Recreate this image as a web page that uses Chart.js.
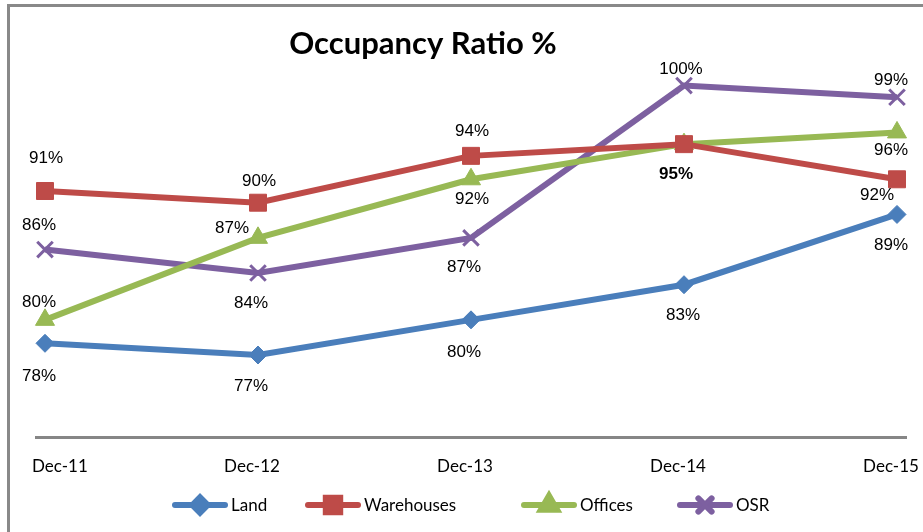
<!DOCTYPE html>
<html>
<head>
<meta charset="utf-8">
<script src="https://cdn.jsdelivr.net/npm/chart.js@4.4.1/dist/chart.umd.min.js"></script>
<style>
  html, body { margin: 0; padding: 0; background: #fff; }
  canvas { display: block; }
</style>
</head>
<body>
<canvas id="chart" width="923" height="532"></canvas>
<script>
// values
const categories = ['Dec-11', 'Dec-12', 'Dec-13', 'Dec-14', 'Dec-15'];
const land = [78, 77, 80, 83, 89];
const warehouses = [91, 90, 94, 95, 92];
const offices = [80, 87, 92, 95, 96];
const osr = [86, 84, 87, 100, 99];
const yMin = 70;
const yMax = 105;

// label placement (dx, dy from the point), null = no label
const labelOffsets = {
  Land: [[-6, 33], [-7, 31], [-7, 32], [-1, 31], [-6, 31]],
  Warehouses: [[1, -33], [1, -21], [1, -25], null, [-20, 16]],
  Offices: [[-6, -18], [-26, -10], [1, 20], [-8, 30, true], [-6, 18]],
  OSR: [[-6, -24], [-7, 30], [-7, 29], [-3, -16], [-6, -17]]
};

const legendX = [172, 305, 521, 677];

const excelPlugin = {
  id: 'excelBits',
  beforeDraw(chart) {
    const ctx = chart.ctx;
    ctx.save();
    ctx.fillStyle = '#fff';
    ctx.fillRect(0, 0, chart.width, chart.height);
    ctx.strokeStyle = '#898989';
    ctx.lineWidth = 3;
    ctx.strokeRect(8.5, 5.5, 1200, 1200);
    // category axis line
    const a = chart.chartArea;
    ctx.strokeStyle = '#868686';
    ctx.lineWidth = 3;
    ctx.beginPath();
    ctx.moveTo(a.left - 10, a.bottom + 0.5);
    ctx.lineTo(a.right + 10, a.bottom + 0.5);
    ctx.stroke();
    // category labels, kept inside the plot like Excel does
    const xs = chart.scales.x;
    ctx.fillStyle = '#000';
    ctx.font = '17px Lato';
    ctx.textBaseline = 'middle';
    ctx.textAlign = 'center';
    categories.forEach((c, i) => {
      const w = ctx.measureText(c).width;
      let cx = xs.getPixelForTick(i) - 6;
      cx = Math.max(cx, a.left - 13 + w / 2);
      cx = Math.min(cx, chart.width - 4 - w / 2);
      ctx.fillText(c, cx, a.bottom + 30);
    });
    // title
    ctx.font = 'bold 31px Lato';
    ctx.fillText('Occupancy Ratio %', 423, 44);
    ctx.restore();
  },
  afterDatasetsDraw(chart) {
    const ctx = chart.ctx;
    ctx.save();
    ctx.textAlign = 'center';
    ctx.textBaseline = 'middle';
    ctx.fillStyle = '#000';
    chart.data.datasets.forEach((ds, di) => {
      const meta = chart.getDatasetMeta(di);
      const offs = labelOffsets[ds.label];
      meta.data.forEach((pt, i) => {
        const o = offs[i];
        if (!o) return;
        ctx.font = (o[2] ? 'bold ' : '') + '17px "Liberation Sans"';
        ctx.fillText(ds.data[i] + '%', pt.x + o[0], pt.y + o[1]);
      });
    });
    // legend
    const ly = 505;
    chart.data.datasets.forEach((ds, di) => {
      const x = legendX[di];
      ctx.strokeStyle = ds.borderColor;
      ctx.lineWidth = 6;
      ctx.lineCap = 'round';
      ctx.beginPath();
      ctx.moveTo(x + 3, ly);
      ctx.lineTo(x + 53, ly);
      ctx.stroke();
      Chart.helpers.drawPoint(ctx, {
        pointStyle: ds.pointStyle,
        radius: ds.pointRadius * 0.85,
        borderWidth: ds.pointBorderWidth,
        rotation: 0
      }, x + 28, ly);
      ctx.fillStyle = ds.borderColor;
      ctx.strokeStyle = ds.borderColor;
      ctx.lineWidth = ds.pointBorderWidth;
      ctx.fill();
      ctx.stroke();
      ctx.fillStyle = '#000';
      ctx.font = '17px Lato';
      ctx.textAlign = 'left';
      ctx.fillText(ds.label, x + 59, ly + 1);
    });
    ctx.restore();
  }
};

function series(label, values, color, style, radius, pbw) {
  return {
    label: label,
    data: values,
    borderColor: color,
    backgroundColor: color,
    pointBackgroundColor: color,
    pointBorderColor: color,
    borderWidth: 6,
    pointStyle: style,
    pointRadius: radius,
    pointHoverRadius: radius,
    pointBorderWidth: pbw,
    tension: 0,
    clip: false
  };
}

new Chart(document.getElementById('chart'), {
  type: 'line',
  data: {
    labels: categories,
    datasets: [
      series('Land', land, '#4A7EBB', 'rectRot', 9, 1),
      series('Warehouses', warehouses, '#BE4B48', 'rect', 12, 1),
      series('Offices', offices, '#98B954', 'triangle', 11, 1),
      series('OSR', osr, '#7D60A0', 'crossRot', 11, 3)
    ]
  },
  options: {
    responsive: false,
    animation: false,
    events: [],
    layout: { padding: { left: 45, right: 26, top: 27, bottom: 0 } },
    plugins: {
      legend: { display: false },
      title: { display: false },
      tooltip: { enabled: false }
    },
    scales: {
      x: {
        offset: false,
        grid: { display: false, drawTicks: false },
        border: { display: false },
        ticks: { display: false },
        afterFit(scale) {
          scale.height = 95;
          scale.paddingLeft = 0;
          scale.paddingRight = 0;
        }
      },
      y: {
        display: false,
        min: yMin,
        max: yMax
      }
    }
  },
  plugins: [excelPlugin]
});
</script>
</body>
</html>
